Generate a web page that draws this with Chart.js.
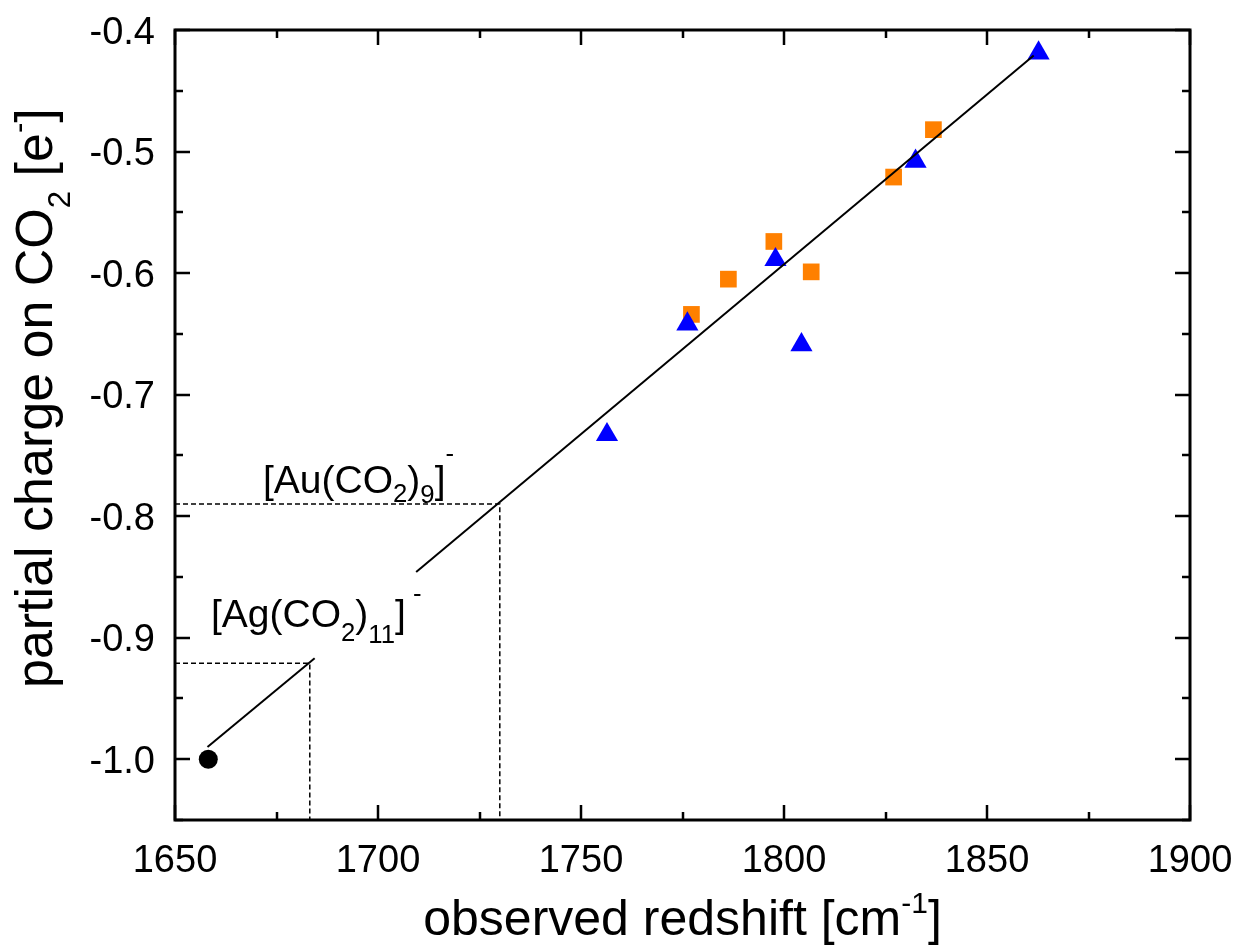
<!DOCTYPE html>
<html>
<head>
<meta charset="utf-8">
<script src="https://cdn.jsdelivr.net/npm/chart.js@4.4.1/dist/chart.umd.min.js"></script>
<style>
  html, body { margin: 0; padding: 0; background: #fff; }
  #wrap { width: 1237px; height: 952px; position: relative; }
</style>
</head>
<body>
<div id="wrap"><canvas id="c"></canvas></div>
<script>
// ---- axis ticks ----
const xMajorTicks = [1650, 1700, 1750, 1800, 1850, 1900];
const xMinorTicks = [1675, 1725, 1775, 1825, 1875];
const yMajorTicks = [-0.4, -0.5, -0.6, -0.7, -0.8, -0.9, -1.0];
const yMinorTicks = [-0.45, -0.55, -0.65, -0.75, -0.85, -0.95, -1.05];
const yTickLabels = ['-0.4', '-0.5', '-0.6', '-0.7', '-0.8', '-0.9', '-1.0'];
const xTickLabels = ['1650', '1700', '1750', '1800', '1850', '1900'];

// ---- measured data ----
const squareShift = [1777.2, 1786.3, 1797.5, 1806.7, 1827.0, 1836.8];
const squareCharge = [-0.634, -0.605, -0.574, -0.599, -0.521, -0.482];
const triangleShift = [1756.4, 1776.2, 1797.9, 1804.3, 1832.4, 1862.7];
const triangleCharge = [-0.733, -0.642, -0.589, -0.659, -0.508, -0.419];
const refShift = [1658.2];
const refCharge = [-1.0];

// linear fit, drawn in two pieces around the [Ag(CO2)11]- label
const fitShiftA = [1658.0, 1684.4];
const fitChargeA = [-0.990, -0.917];
const fitShiftB = [1709.4, 1861.5];
const fitChargeB = [-0.846, -0.421];

// read-off guides for the two clusters
const agShift = 1683.2, agCharge = -0.921;
const auShift = 1730.0, auCharge = -0.790;

const X_MIN = 1650, X_MAX = 1900, Y_MIN = -1.05, Y_MAX = -0.4;

const pts = (xs, ys) => xs.map((x, i) => ({ x: x, y: ys[i] }));

const FONT = '"Liberation Sans", Arial, Helvetica, sans-serif';

function richWidth(ctx, parts, size) {
  let w = 0;
  for (const p of parts) {
    const fs = p.k === 'n' ? size : size * (p.s || 0.62);
    ctx.font = fs + 'px ' + FONT;
    w += ctx.measureText(p.t).width;
  }
  return w;
}
function drawRich(ctx, parts, size) {
  let x = 0;
  for (const p of parts) {
    const fs = p.k === 'n' ? size : size * (p.s || 0.62);
    ctx.font = fs + 'px ' + FONT;
    const dy = p.k === 'sub' ? size * (p.d || 0.28) : p.k === 'sup' ? -size * (p.d || 0.42) : 0;
    ctx.fillText(p.t, x, dy);
    x += ctx.measureText(p.t).width;
  }
  return x;
}

const frame = {
  id: 'frame',
  afterDatasetsDraw(chart) {
    const ctx = chart.ctx;
    const a = chart.chartArea;
    const xs = chart.scales.x, ys = chart.scales.y;
    ctx.save();
    ctx.strokeStyle = '#000';
    ctx.fillStyle = '#000';
    // ticks, inward on all four sides
    ctx.lineWidth = 2.5;
    const tick = (vals, len, horiz) => {
      ctx.beginPath();
      for (const v of vals) {
        if (horiz) {
          const p = Math.round(xs.getPixelForValue(v));
          ctx.moveTo(p, a.bottom); ctx.lineTo(p, a.bottom - len);
          ctx.moveTo(p, a.top); ctx.lineTo(p, a.top + len);
        } else {
          const p = Math.round(ys.getPixelForValue(v));
          ctx.moveTo(a.left, p); ctx.lineTo(a.left + len, p);
          ctx.moveTo(a.right, p); ctx.lineTo(a.right - len, p);
        }
      }
      ctx.stroke();
    };
    tick(xMajorTicks, 15, true);
    tick(xMinorTicks, 8, true);
    tick(yMajorTicks, 15, false);
    tick(yMinorTicks, 8, false);
    // frame
    ctx.lineWidth = 3;
    ctx.strokeRect(a.left, a.top, a.right - a.left, a.bottom - a.top);

    // tick labels
    ctx.font = '38px ' + FONT;
    ctx.textAlign = 'center';
    xMajorTicks.forEach((v, i) => {
      ctx.fillText(xTickLabels[i], xs.getPixelForValue(v), a.bottom + 52);
    });
    ctx.textAlign = 'right';
    yMajorTicks.forEach((v, i) => {
      ctx.fillText(yTickLabels[i], a.left - 20, ys.getPixelForValue(v) + 13.5);
    });

    // x-axis title
    ctx.textAlign = 'left';
    const xt = [{ t: 'observed redshift [cm', k: 'n' }, { t: '-1', k: 'sup', s: 0.6, d: 0.45 }, { t: ']', k: 'n' }];
    const xw = richWidth(ctx, xt, 50);
    ctx.save();
    ctx.translate((a.left + a.right) / 2 - xw / 2, 935);
    drawRich(ctx, xt, 50);
    ctx.restore();

    // y-axis title
    const yt = [{ t: 'partial charge on CO', k: 'n' }, { t: '2', k: 'sub', s: 0.6, d: 0.34 }, { t: ' [e', k: 'n' },
                { t: '-', k: 'sup', s: 0.6, d: 0.45 }, { t: ']', k: 'n' }];
    ctx.save();
    ctx.translate(52, 688);
    ctx.rotate(-Math.PI / 2);
    drawRich(ctx, yt, 52);
    ctx.restore();

    // cluster labels
    const au = [{ t: '[Au(CO', k: 'n' }, { t: '2', k: 'sub', s: 0.66, d: 0.24 }, { t: ')', k: 'n' },
                { t: '9', k: 'sub', s: 0.66, d: 0.26 }, { t: ']', k: 'n' }, { t: '-', k: 'sup', s: 0.66, d: 0.8 }];
    ctx.save();
    ctx.translate(263, 493);
    drawRich(ctx, au, 39);
    ctx.restore();
    const ag = [{ t: '[Ag(CO', k: 'n' }, { t: '2', k: 'sub', s: 0.66, d: 0.36 }, { t: ')', k: 'n' },
                { t: '11', k: 'sub', s: 0.66, d: 0.4 }, { t: ']', k: 'n' }, { t: ' -', k: 'sup', s: 0.66, d: 0.65 }];
    ctx.save();
    ctx.translate(211, 627);
    drawRich(ctx, ag, 39);
    ctx.restore();

    ctx.restore();
  }
};

new Chart(document.getElementById('c'), {
  type: 'scatter',
  data: {
    datasets: [
      { data: pts(fitShiftA, fitChargeA), showLine: true, borderColor: '#000', borderWidth: 2, pointRadius: 0, order: 0 },
      { data: pts(fitShiftB, fitChargeB), showLine: true, borderColor: '#000', borderWidth: 2, pointRadius: 0, order: 0 },
      { data: [{ x: X_MIN, y: agCharge }, { x: agShift, y: agCharge }, { x: agShift, y: Y_MIN }], showLine: true,
        borderColor: '#000', borderWidth: 1.5, borderDash: [5, 3], pointRadius: 0, order: 1 },
      { data: [{ x: X_MIN, y: auCharge }, { x: auShift, y: auCharge }, { x: auShift, y: Y_MIN }], showLine: true,
        borderColor: '#000', borderWidth: 1.5, borderDash: [5, 3], pointRadius: 0, order: 1 },
      { data: pts(refShift, refCharge), pointStyle: 'circle', pointRadius: 9.5, backgroundColor: '#000',
        borderWidth: 0, order: 2 },
      { data: pts(triangleShift, triangleCharge), pointStyle: 'triangle', pointRadius: 12.8, backgroundColor: '#0000ff',
        borderWidth: 0, order: 3 },
      { data: pts(squareShift, squareCharge), pointStyle: 'rect', pointRadius: 11.8, backgroundColor: '#ff8000',
        borderWidth: 0, order: 4 }
    ]
  },
  options: {
    responsive: true,
    maintainAspectRatio: false,
    animation: false,
    events: [],
    layout: { padding: { left: 175, top: 30, right: 47, bottom: 132 } },
    plugins: { legend: { display: false }, tooltip: { enabled: false } },
    scales: {
      x: {
        type: 'linear', min: X_MIN, max: X_MAX,
        grid: { display: false }, border: { display: false },
        ticks: { display: false },
        afterFit: s => { s.height = 0; }
      },
      y: {
        type: 'linear', min: Y_MIN, max: Y_MAX,
        grid: { display: false }, border: { display: false },
        ticks: { display: false },
        afterFit: s => { s.width = 0; }
      }
    }
  },
  plugins: [frame]
});
</script>
</body>
</html>
